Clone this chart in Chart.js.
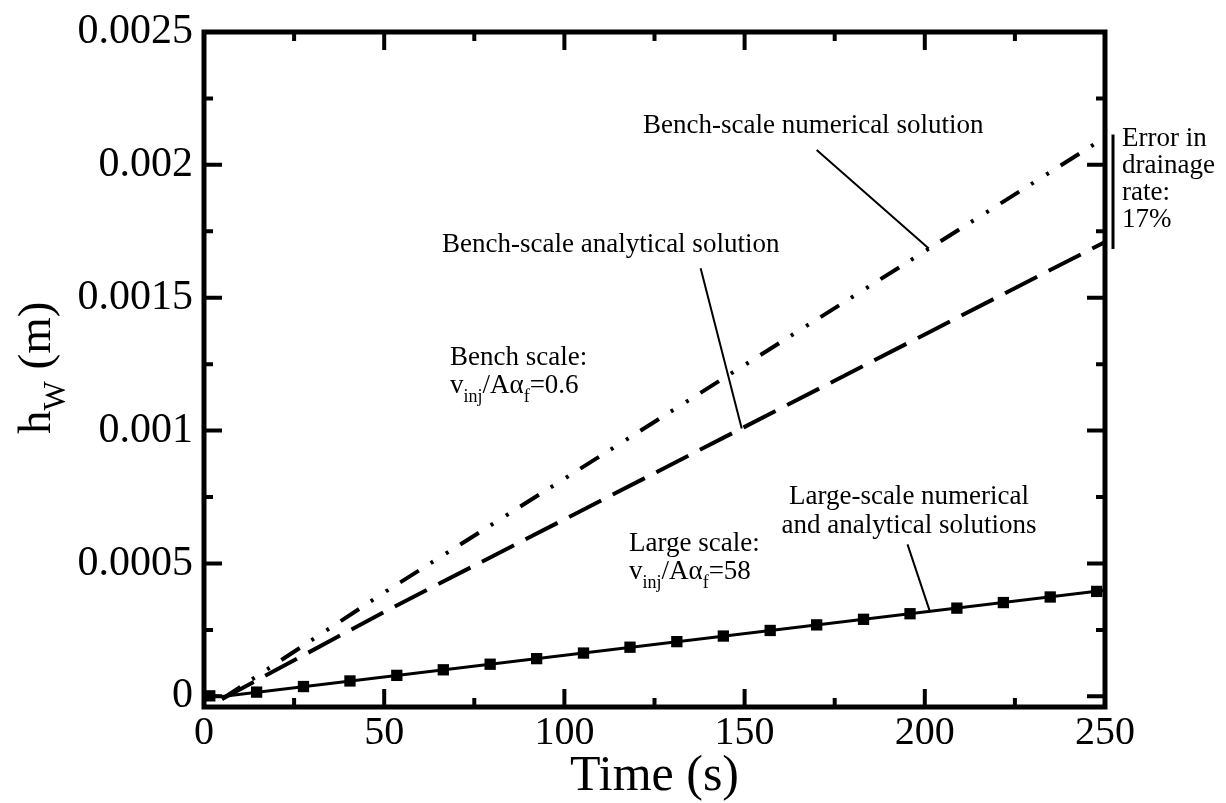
<!DOCTYPE html>
<html>
<head>
<meta charset="utf-8">
<script src="https://cdn.jsdelivr.net/npm/chart.js@4.4.0/dist/chart.umd.min.js"></script>
<style>
  body { margin: 0; background: #fff; }
</style>
</head>
<body>
<canvas id="grafico" width="1226" height="803"></canvas>
<script>
// valori (tempo in s, h_w in m)
const tempiBench = [5, 50, 100, 150, 200, 250];
const hBenchNumerico = [-0.00001, 0.000391, 0.000819, 0.001247, 0.001675, 0.002103];
const hBenchAnalitico = [-0.00001, 0.000318, 0.000666, 0.001014, 0.001362, 0.00171];

const tempiLargeAnalitico = [0, 5, 250];
const hLargeAnalitico = [0.000006, 0, 0.000399];

const tempiLargeNumerico = [1.6, 14.6, 27.6, 40.5, 53.5, 66.4, 79.4, 92.3, 105.3, 118.2, 131.2,
  144.1, 157.1, 170.0, 183.0, 195.9, 208.9, 221.8, 234.8, 247.7];
const hLargeNumerico = [0.000002, 0.000016, 0.000037, 0.000058, 0.000079, 0.0001, 0.000121,
  0.000142, 0.000163, 0.000185, 0.000206, 0.000227, 0.000248, 0.000269, 0.00029, 0.000311,
  0.000332, 0.000353, 0.000374, 0.000395];

const xTicks = [0, 50, 100, 150, 200, 250];
const xTicksMinori = [25, 75, 125, 175, 225];
const yTicks = [0, 0.0005, 0.001, 0.0015, 0.002, 0.0025];
const yTicksMinori = [0.00025, 0.00075, 0.00125, 0.00175, 0.00225];
const yEtichette = ['0', '0.0005', '0.001', '0.0015', '0.002', '0.0025'];

const FONT = "'Liberation Serif', 'Times New Roman', serif";

function punti(xs, ys) {
  return xs.map((t, i) => ({x: t, y: ys[i]}));
}

// scrive un testo fatto di pezzi, alcuni come pedice
function scriviPezzi(ctx, pezzi, x, y, size) {
  let cx = x;
  for (const p of pezzi) {
    const s = p.sub ? Math.round(size * 0.66) : size;
    ctx.font = s + 'px ' + FONT;
    ctx.fillText(p.t, cx, y + (p.sub ? size * 0.32 : 0));
    cx += ctx.measureText(p.t).width;
  }
}

const annotazioni = [
  {pezzi: [{t: 'Bench-scale numerical solution'}], x: 643, y: 133},
  {pezzi: [{t: 'Bench-scale analytical solution'}], x: 442, y: 252},
  {pezzi: [{t: 'Bench scale:'}], x: 450, y: 365},
  {pezzi: [{t: 'v'}, {t: 'inj', sub: true}, {t: '/A\u03b1'}, {t: 'f', sub: true}, {t: '=0.6'}], x: 450, y: 393},
  {pezzi: [{t: 'Large scale:'}], x: 629, y: 551},
  {pezzi: [{t: 'v'}, {t: 'inj', sub: true}, {t: '/A\u03b1'}, {t: 'f', sub: true}, {t: '=58'}], x: 629, y: 579},
  {pezzi: [{t: 'Error in'}], x: 1122, y: 146},
  {pezzi: [{t: 'drainage'}], x: 1122, y: 173},
  {pezzi: [{t: 'rate:'}], x: 1122, y: 200},
  {pezzi: [{t: '17%'}], x: 1122, y: 227}
];
const annotazioniCentrate = [
  {testo: 'Large-scale numerical', x: 909, y: 504},
  {testo: 'and analytical solutions', x: 909, y: 533}
];

// linee di richiamo, in coordinate dei dati
const richiami = [
  [[170, 0.002056], [201.1, 0.001685]],
  [[137.8, 0.001611], [149.2, 0.001008]],
  [[195.2, 0.000572], [201.4, 0.00032]]
];

const pluginAssi = {
  id: 'assi',
  afterDatasetsDraw(chart) {
    const {ctx, chartArea: a, scales: {x, y}} = chart;
    ctx.save();
    ctx.strokeStyle = '#000';
    ctx.fillStyle = '#000';

    // richiami
    ctx.lineWidth = 2;
    ctx.beginPath();
    for (const r of richiami) {
      ctx.moveTo(x.getPixelForValue(r[0][0]), y.getPixelForValue(r[0][1]));
      ctx.lineTo(x.getPixelForValue(r[1][0]), y.getPixelForValue(r[1][1]));
    }
    ctx.stroke();

    // tacche verso l'interno
    ctx.lineWidth = 4;
    ctx.beginPath();
    const tacX = (v, len) => {
      const px = x.getPixelForValue(v);
      ctx.moveTo(px, a.bottom); ctx.lineTo(px, a.bottom - len);
      ctx.moveTo(px, a.top); ctx.lineTo(px, a.top + len);
    };
    const tacY = (v, len) => {
      const py = y.getPixelForValue(v);
      ctx.moveTo(a.left, py); ctx.lineTo(a.left + len, py);
      ctx.moveTo(a.right, py); ctx.lineTo(a.right - len, py);
    };
    xTicks.forEach(v => tacX(v, 18));
    xTicksMinori.forEach(v => tacX(v, 9));
    yTicks.forEach(v => tacY(v, 18));
    yTicksMinori.forEach(v => tacY(v, 9));
    ctx.stroke();

    // cornice
    ctx.lineWidth = 5;
    ctx.strokeRect(a.left, a.top, a.right - a.left, a.bottom - a.top);

    // barra dell'errore
    ctx.lineWidth = 3;
    ctx.beginPath();
    ctx.moveTo(a.right + 8, y.getPixelForValue(hBenchNumerico[hBenchNumerico.length - 1]) - 3);
    ctx.lineTo(a.right + 8, y.getPixelForValue(hBenchAnalitico[hBenchAnalitico.length - 1]) + 7);
    ctx.stroke();

    // testi
    ctx.textBaseline = 'alphabetic';
    ctx.textAlign = 'left';
    for (const n of annotazioni) scriviPezzi(ctx, n.pezzi, n.x, n.y, 27);
    ctx.textAlign = 'center';
    ctx.font = '27px ' + FONT;
    for (const n of annotazioniCentrate) ctx.fillText(n.testo, n.x, n.y);

    // titolo asse y con pedice
    ctx.textAlign = 'left';
    ctx.translate(50, 434);
    ctx.rotate(-Math.PI / 2);
    scriviPezzi(ctx, [{t: 'h'}, {t: 'W', sub: true}, {t: ' (m)'}], 0, 0, 47);
    ctx.restore();
  }
};

new Chart(document.getElementById('grafico'), {
  type: 'scatter',
  data: {
    datasets: [
      {
        label: 'Bench-scale numerical solution',
        data: punti(tempiBench, hBenchNumerico),
        showLine: true,
        borderColor: '#000',
        borderWidth: 4,
        borderDash: [22, 14, 3, 15, 3, 14],
        pointRadius: 0
      },
      {
        label: 'Bench-scale analytical solution',
        data: punti(tempiBench, hBenchAnalitico),
        showLine: true,
        borderColor: '#000',
        borderWidth: 4,
        borderDash: [36, 13],
        pointRadius: 0
      },
      {
        label: 'Large-scale analytical solution',
        data: punti(tempiLargeAnalitico, hLargeAnalitico),
        showLine: true,
        borderColor: '#000',
        borderWidth: 3,
        pointRadius: 0
      },
      {
        label: 'Large-scale numerical solution',
        data: punti(tempiLargeNumerico, hLargeNumerico),
        showLine: false,
        pointStyle: 'rect',
        pointRadius: 8,
        backgroundColor: '#000',
        borderColor: '#000',
        borderWidth: 0
      }
    ]
  },
  options: {
    responsive: false,
    animation: false,
    layout: {padding: {top: 22, right: 121, left: 0, bottom: 0}},
    plugins: {legend: {display: false}, tooltip: {enabled: false}},
    scales: {
      x: {
        type: 'linear',
        min: 0,
        max: 250,
        afterFit(scale) { scale.height = 96; },
        afterBuildTicks(scale) { scale.ticks = xTicks.map(v => ({value: v})); },
        grid: {display: false, drawTicks: false},
        border: {display: false},
        ticks: {
          color: '#000',
          padding: 6,
          maxRotation: 0,
          font: {family: FONT, size: 40, lineHeight: 1}
        },
        title: {
          display: true,
          text: 'Time (s)',
          color: '#000',
          padding: {top: 0, bottom: 1},
          font: {family: FONT, size: 50, lineHeight: 1}
        }
      },
      y: {
        type: 'linear',
        min: -0.00004,
        max: 0.0025,
        afterFit(scale) { scale.width = 204; },
        afterBuildTicks(scale) { scale.ticks = yTicks.map(v => ({value: v})); },
        grid: {display: false, drawTicks: false},
        border: {display: false},
        ticks: {
          color: '#000',
          padding: 11,
          font: {family: FONT, size: 42, lineHeight: 1},
          callback: (v) => yEtichette[yTicks.indexOf(v)]
        }
      }
    }
  },
  plugins: [pluginAssi]
});
</script>
</body>
</html>
